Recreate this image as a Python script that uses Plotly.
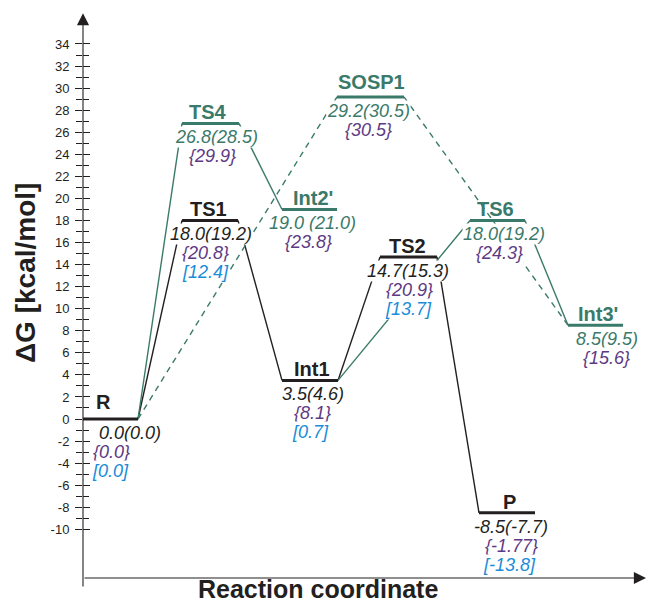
import plotly.graph_objects as go

# ---------------- data ----------------
states = ["R", "TS1", "TS4", "Int2'", "SOSP1", "Int1", "TS2", "TS6", "Int3'", "P"]
dG = [0.0, 18.0, 26.8, 19.0, 29.2, 3.5, 14.7, 18.0, 8.5, -8.5]
dG_paren = [0.0, 19.2, 28.5, 21.0, 30.5, 4.6, 15.3, 19.2, 9.5, -7.7]
dG_curly = [0.0, 20.8, 29.9, 23.8, 30.5, 8.1, 20.9, 24.3, 15.6, -1.77]
dG_square = [0.0, 12.4, None, None, None, 0.7, 13.7, None, None, -13.8]
pathway = ["main", "main", "alt", "alt", "alt", "main", "main", "alt", "alt", "main"]

# connections: (from, to, style)
links = [
    ("R", "TS1", "main"), ("TS1", "Int1", "main"), ("Int1", "TS2", "main"), ("TS2", "P", "main"),
    ("R", "TS4", "alt"), ("TS4", "Int2'", "alt"),
    ("Int1", "TS6", "alt"), ("TS6", "Int3'", "alt"),
    ("R", "SOSP1", "altdash"), ("SOSP1", "Int3'", "altdash"),
]

yticks = list(range(-10, 35, 2))
yminor = list(range(-9, 34, 2))

# ---------------- layout helpers (positions / styles) ----------------
xext = {
    "R": (0, 55), "TS1": (99, 155), "TS4": (99, 156), "Int2'": (199, 254),
    "SOSP1": (254, 321), "Int1": (199, 255), "TS2": (297, 354),
    "TS6": (387, 442), "Int3'": (485, 540), "P": (396, 452),
}
labx = {
    "R": (20, 47, 28, 27), "TS1": (125, 128, 122, 122), "TS4": (125, 133, 129, None),
    "Int2'": (230, 229, 225, None), "SOSP1": (288, 285, 285, None),
    "Int1": (229, 230, 229, 227), "TS2": (324, 325, 326, 325),
    "TS6": (412, 421, 416, None), "Int3'": (515, 524, 523, None), "P": (426, 428, 428, 426),
}
name_shift = {"R": 17, "SOSP1": 15}
sep = {"Int2'": " "}

BLACK = "#231f20"
GREEN = "#3a7a6a"
PURPLE = "#5e3a85"
BLUE = "#1a8cd8"
FONT = "Liberation Sans, Arial, sans-serif"
col = {"main": BLACK, "alt": GREEN, "altdash": GREEN}

idx = {s: i for i, s in enumerate(states)}

fig = go.Figure()

for a, b, style in links:
    ia, ib = idx[a], idx[b]
    fig.add_trace(go.Scatter(
        x=[xext[a][1], xext[b][0]], y=[dG[ia], dG[ib]], mode="lines",
        line=dict(color=col[style], width=1.4, dash="6px,5px" if style == "altdash" else "solid"),
        hoverinfo="skip", showlegend=False))

for i, s in enumerate(states):
    fig.add_trace(go.Scatter(
        x=[xext[s][0], xext[s][1]], y=[dG[i], dG[i]], mode="lines",
        line=dict(color=col[pathway[i]], width=3),
        hoverinfo="skip", showlegend=False))

for i, s in enumerate(states):
    c = col[pathway[i]]
    nx, vx, cx, sx = labx[s]
    fig.add_annotation(x=nx, y=dG[i], yshift=name_shift.get(s, 11), text=f"<b>{s}</b>",
                       showarrow=False, font=dict(family=FONT, size=20, color=c))
    fig.add_annotation(x=vx, y=dG[i], yshift=-14,
                       text=f"<i>{dG[i]}{sep.get(s, '')}({dG_paren[i]})</i>",
                       showarrow=False, bgcolor="white", borderpad=0,
                       font=dict(family=FONT, size=18, color=c))
    fig.add_annotation(x=cx, y=dG[i], yshift=-33, text=f"<i>{{{dG_curly[i]}}}</i>",
                       showarrow=False, bgcolor="white", borderpad=0,
                       font=dict(family=FONT, size=18, color=PURPLE))
    if dG_square[i] is not None:
        fig.add_annotation(x=sx, y=dG[i], yshift=-52, text=f"<i>[{dG_square[i]}]</i>",
                           showarrow=False, bgcolor="white", borderpad=0,
                           font=dict(family=FONT, size=18, color=BLUE))

YMIN, YMAX = -15.32, 36.81
XAX_Y = -14.415

# axis arrows
fig.add_annotation(x=0, y=YMAX - 0.02, ax=0, ay=YMIN, axref="x", ayref="y", xref="x", yref="y",
                   text="", showarrow=True, arrowhead=2, arrowsize=2.2, arrowwidth=1.1,
                   arrowcolor=BLACK)
fig.add_annotation(x=563, y=XAX_Y, ax=0, ay=XAX_Y, axref="x", ayref="y", xref="x", yref="y",
                   text="", showarrow=True, arrowhead=2, arrowsize=2.2, arrowwidth=1.1,
                   arrowcolor=BLACK)

# axis titles (paper coordinates so they may sit outside the plot area)
W, H = 649, 604
L, R_, T, B = 83, 0, 13, 16
pw, ph = W - L - R_, H - T - B
fig.add_annotation(xref="paper", yref="paper", x=(25 - L) / pw, y=(H - B - 273) / ph,
                   xanchor="center", yanchor="middle",
                   text="<b>ΔG [kcal/mol]</b>", textangle=-90, showarrow=False,
                   font=dict(family=FONT, size=28, color=BLACK))
fig.add_annotation(xref="paper", yref="paper", x=(318 - L) / pw, y=(H - B - 589.5) / ph,
                   xanchor="center", yanchor="middle",
                   text="<b>Reaction coordinate</b>", showarrow=False,
                   font=dict(family=FONT, size=25, color=BLACK))

fig.update_layout(
    width=W, height=H,
    margin=dict(l=L, r=R_, t=T, b=B),
    paper_bgcolor="white", plot_bgcolor="white",
    showlegend=False,
    xaxis=dict(range=[0, 566], visible=False, fixedrange=True),
    yaxis=dict(range=[YMIN, YMAX], showgrid=False, zeroline=False, showline=False,
               tickmode="array", tickvals=yticks, ticktext=[str(v) for v in yticks],
               ticks="outside", ticklen=7, tickwidth=1, tickcolor=BLACK,
               ticklabelstandoff=3,
               minor=dict(tickmode="array", tickvals=yminor, ticks="outside", ticklen=6,
                          tickwidth=1, tickcolor=BLACK),
               tickfont=dict(family=FONT, size=13, color=BLACK)),
    yaxis2=dict(range=[YMIN, YMAX], overlaying="y", side="left", anchor="x",
                showgrid=False, zeroline=False, showline=False, showticklabels=False,
                tickmode="array", tickvals=yticks, ticks="inside", ticklen=7, tickwidth=1,
                tickcolor=BLACK,
                minor=dict(tickmode="array", tickvals=yminor, ticks="inside", ticklen=6,
                           tickwidth=1, tickcolor=BLACK)),
)
fig.add_trace(go.Scatter(x=[None], y=[None], yaxis="y2", showlegend=False, hoverinfo="skip"))

fig.write_html("out.html", config={"displayModeBar": False},
               post_script="document.body.style.margin='0px';document.body.style.overflow='hidden';")
